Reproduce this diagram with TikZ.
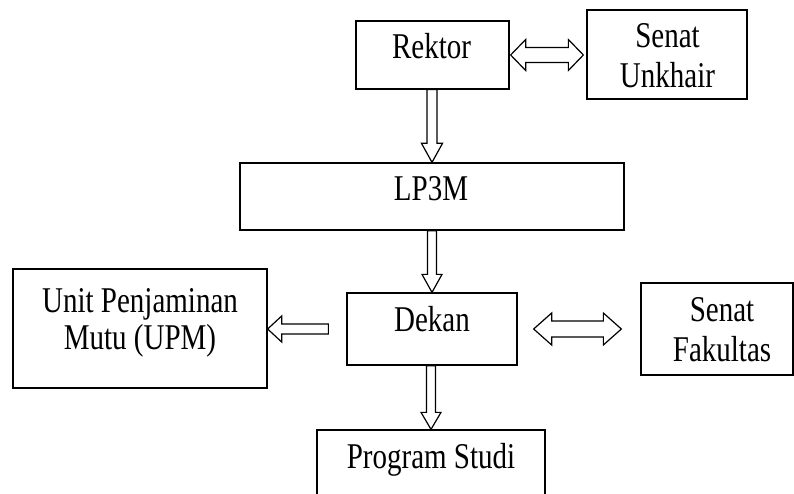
\documentclass[tikz,border=0pt]{standalone}
\usepackage{fontspec}
\usepackage{graphicx}
\setmainfont{Liberation Serif}
\usetikzlibrary{calc}
\newcommand{\Tall}[1]{\scalebox{1}[1.25]{#1}}
\tikzset{
  box/.style={draw, line width=1.3pt, inner sep=0pt, rectangle},
  lbl/.style={inner sep=0pt, anchor=base, font=\fontsize{29}{34}\selectfont},
  blk/.style={draw, line width=1.2pt, line join=miter, fill=white},
}
% vertical hollow arrow: base, tip, shaft half, head half, head length
\newcommand{\ArrDown}[5]{%
  \draw[blk] ($(#1)+(-#3,0)$) -- ($(#2)+(-#3,-#5)$) -- ($(#2)+(-#4,-#5)$) -- (#2)
    -- ($(#2)+(#4,-#5)$) -- ($(#2)+(#3,-#5)$) -- ($(#1)+(#3,0)$) -- cycle;}
% horizontal hollow arrow pointing left: base (right), tip (left)
\newcommand{\ArrLeft}[5]{%
  \draw[blk] ($(#1)+(0,-#3)$) -- ($(#2)+(#5,-#3)$) -- ($(#2)+(#5,-#4)$) -- (#2)
    -- ($(#2)+(#5,#4)$) -- ($(#2)+(#5,#3)$) -- ($(#1)+(0,#3)$) -- cycle;}
% horizontal double hollow arrow: left tip, right tip
\newcommand{\ArrBoth}[5]{%
  \draw[blk] (#1) -- ($(#1)+(#5,-#4)$) -- ($(#1)+(#5,-#3)$) -- ($(#2)+(-#5,-#3)$)
    -- ($(#2)+(-#5,-#4)$) -- (#2) -- ($(#2)+(-#5,#4)$) -- ($(#2)+(-#5,#3)$)
    -- ($(#1)+(#5,#3)$) -- ($(#1)+(#5,#4)$) -- cycle;}
\begin{document}
\begin{tikzpicture}[x=1pt,y=-1pt]
\useasboundingbox (0,0) rectangle (794,494);
\clip (0,0) rectangle (794,494);
\fill[white] (0,0) rectangle (794,494);

% boxes
\node[box, minimum width=153pt, minimum height=68pt] (rektor) at (432.5,55) {};
\node[box, minimum width=160pt, minimum height=89pt] (senatU) at (667,54.5) {};
\node[box, minimum width=384pt, minimum height=67pt] (lp3m) at (432,196.5) {};
\node[box, minimum width=170pt, minimum height=72pt] (dekan) at (432,329) {};
\node[box, minimum width=254pt, minimum height=119pt] (upm) at (140,328.5) {};
\node[box, minimum width=152pt, minimum height=92pt] (senatF) at (717,329) {};
\node[box, minimum width=228pt, minimum height=90pt] (prodi) at (431,475) {};

% texts
\node[lbl] (tRektor) at (431.5,59) {\Tall{Rektor}};
\node[lbl] (tSenatU1) at (667.5,48) {\Tall{Senat}};
\node[lbl] (tSenatU2) at (667.5,88) {\Tall{Unkhair}};
\node[lbl] (tLP) at (431,201) {\Tall{LP3M}};
\node[lbl] (tDekan) at (432,331) {\Tall{Dekan}};
\node[lbl] (tUPM1) at (140,312) {\Tall{Unit Penjaminan}};
\node[lbl] (tUPM2) at (140,349) {\Tall{Mutu (UPM)}};
\node[lbl] (tSenatF1) at (722,321) {\Tall{Senat}};
\node[lbl] (tSenatF2) at (722,361) {\Tall{Fakultas}};
\node[lbl] (tProdi) at (431,468) {\Tall{Program Studi}};

% connector end points
\coordinate (a1b) at (lp3m.north |- rektor.south);
\coordinate (a1t) at (lp3m.north);
\coordinate (a2b) at (dekan.north |- lp3m.south);
\coordinate (a2t) at (dekan.north);
\coordinate (a3b) at (prodi.north |- dekan.south);
\coordinate (a3t) at (prodi.north);
\coordinate (a4b) at ($(dekan.west)+(-18,0)$);
\coordinate (a4t) at (upm.east |- dekan.west);
\coordinate (a5l) at ($(rektor.east)+(1,0)$);
\coordinate (a5r) at ($(senatU.west |- rektor.east)+(-3,0)$);
\coordinate (a6l) at ($(dekan.east)+(16,0)$);
\coordinate (a6r) at ($(senatF.west |- dekan.east)+(-19,0)$);

% connectors
\ArrDown{a1b}{a1t}{5}{10.5}{19}
\ArrDown{a2b}{a2t}{4.5}{10}{18}
\ArrDown{a3b}{a3t}{4.5}{10}{17}
\ArrLeft{a4b}{a4t}{5}{13}{14}
\ArrBoth{a5l}{a5r}{7.5}{15.5}{15}
\ArrBoth{a6l}{a6r}{8}{16}{18}
\end{tikzpicture}
\end{document}
